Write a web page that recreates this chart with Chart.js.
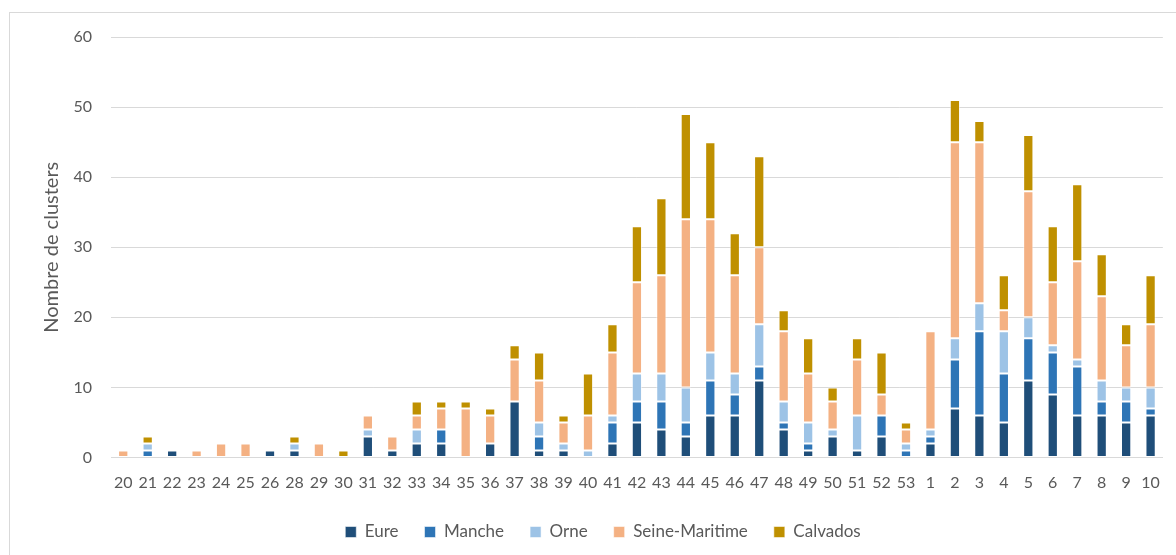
<!DOCTYPE html>
<html>
<head>
<meta charset="utf-8">
<script src="https://cdn.jsdelivr.net/npm/chart.js@4/dist/chart.umd.min.js"></script>
<style>
  html, body { margin: 0; padding: 0; background: #fff; }
  #wrap { position: relative; width: 1176px; height: 555px; overflow: hidden; }
  #frame { position: absolute; left: 9px; top: 12px; width: 1300px; height: 700px; border: 1px solid #d9d9d9; box-sizing: border-box; }
  canvas { position: absolute; left: 0; top: 0; }
</style>
</head>
<body>
<div id="wrap">
  <div id="frame"></div>
  <canvas id="c" width="1176" height="555"></canvas>
</div>
<script>
const categories = ["20","21","22","23","24","25","26","28","29","30","31","32","33","34","35","36","37","38","39","40","41","42","43","44","45","46","47","48","49","50","51","52","53","1","2","3","4","5","6","7","8","9","10"];
const eure   = [0,0,1,0,0,0,1,1,0,0,3,1,2,2,0,2,8,1,1,0,2,5,4,3,6,6,11,4,1,3,1,3,0,2,7,6,5,11,9,6,6,5,6];
const manche = [0,1,0,0,0,0,0,0,0,0,0,0,0,2,0,0,0,2,0,0,3,3,4,2,5,3,2,1,1,0,0,3,1,1,7,12,7,6,6,7,2,3,1];
const orne   = [0,1,0,0,0,0,0,1,0,0,1,0,2,0,0,0,0,2,1,1,1,4,4,5,4,3,6,3,3,1,5,0,1,1,3,4,6,3,1,1,3,2,3];
const seineMaritime = [1,0,0,1,2,2,0,0,2,0,2,2,2,3,7,4,6,6,3,5,9,13,14,24,19,14,11,10,7,4,8,3,2,14,28,23,3,18,9,14,12,6,9];
const calvados = [0,1,0,0,0,0,0,1,0,1,0,0,2,1,1,1,2,4,1,6,4,8,11,15,11,6,13,3,5,2,3,6,1,0,6,3,5,8,8,11,6,3,7];
const seriesNames = ["Eure","Manche","Orne","Seine-Maritime","Calvados"];
const yTicks = [0,10,20,30,40,50,60];

const colors = ["#1F4E79","#2E75B6","#9DC3E6","#F4B183","#BF9000"];
const seriesData = [eure, manche, orne, seineMaritime, calvados];
const FONT = "Lato, 'Open Sans', sans-serif";
const TXT = "#595959";

const datasets = seriesData.map((d, i) => ({
  label: seriesNames[i],
  data: d,
  backgroundColor: colors[i],
  borderColor: "rgba(255,255,255,0.55)",
  borderWidth: 1,
  borderSkipped: false,
  barPercentage: 0.42,
  categoryPercentage: 1.0
}));

new Chart(document.getElementById("c"), {
  type: "bar",
  data: { labels: categories, datasets },
  options: {
    responsive: false,
    animation: false,
    layout: { padding: { left: 40, right: 10, top: 37, bottom: 4.5 } },
    plugins: {
      legend: {
        position: "bottom",
        labels: {
          font: { family: FONT, size: 17 },
          color: TXT,
          boxWidth: 11,
          boxHeight: 11,
          padding: 26
        }
      },
      tooltip: { enabled: false }
    },
    scales: {
      x: {
        stacked: true,
        grid: { display: false, drawTicks: false },
        border: { display: true, color: "#d9d9d9", width: 1 },
        afterFit: (s) => { s.height = 40; },
        ticks: {
          font: { family: FONT, size: 16 },
          color: TXT,
          autoSkip: false,
          maxRotation: 0,
          minRotation: 0,
          padding: 16
        }
      },
      y: {
        stacked: true,
        min: 0,
        max: 60,
        afterBuildTicks: (s) => { s.ticks = yTicks.map(v => ({ value: v })); },
        afterFit: (s) => { s.width = 71; },
        grid: { color: "#d9d9d9", lineWidth: 1, drawTicks: false },
        border: { display: false },
        ticks: {
          font: { family: FONT, size: 16 },
          color: TXT,
          padding: 19
        },
        title: {
          display: true,
          text: "Nombre de clusters",
          font: { family: FONT, size: 20 },
          color: TXT,
          padding: { top: 0, bottom: 0 }
        }
      }
    }
  }
});
</script>
</body>
</html>
